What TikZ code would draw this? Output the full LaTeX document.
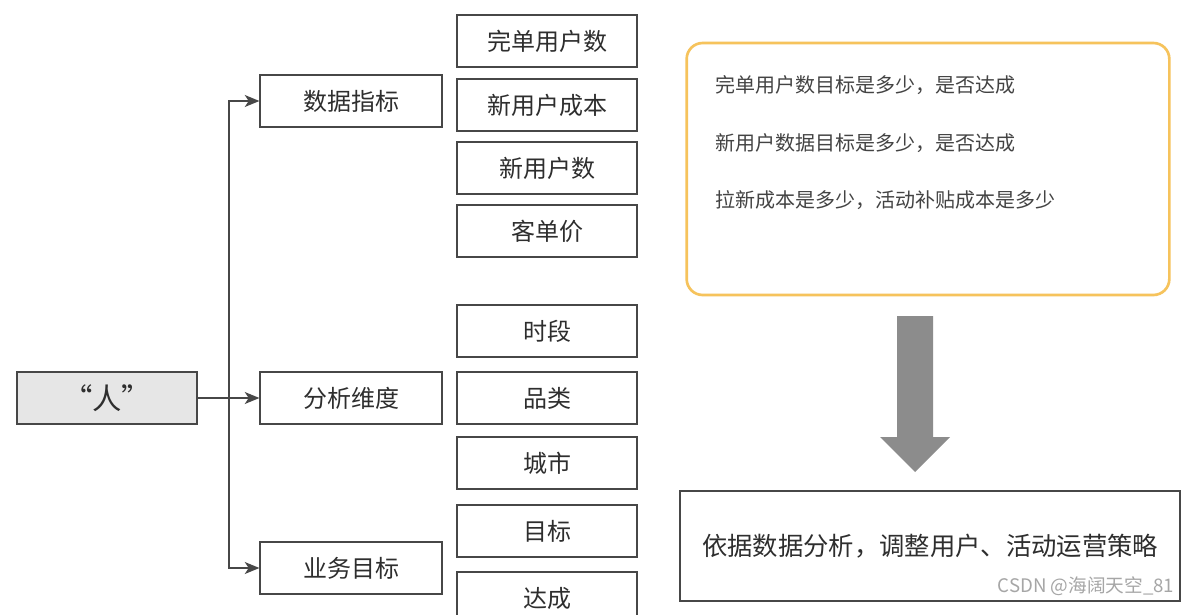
\documentclass[tikz,border=0pt]{standalone}
\usepackage{fontspec}
\setmainfont{Noto Sans CJK SC}
\usetikzlibrary{arrows.meta,shadows}
\definecolor{txtgray}{HTML}{2E2E2E}
\definecolor{linegray}{HTML}{474747}
\definecolor{rengray}{HTML}{E6E6E6}
\definecolor{goalyellow}{HTML}{F6C35C}
\definecolor{bigarrow}{HTML}{8C8C8C}

\begin{document}
\begin{tikzpicture}[
  x=0.75pt,
  y=-0.75pt,
  every node/.style={text=txtgray, align=center},
  box/.style={
    draw=linegray,
    line width=1.4pt,
    fill=white,
    minimum width=136pt,
    minimum height=39pt,
    inner sep=0pt,
    font=\fontsize{18}{20}\selectfont,
    drop shadow={opacity=0.25, shadow xshift=0.8pt, shadow yshift=-0.8pt}
  },
  item/.style={box, minimum width=135pt},
  note/.style={anchor=west, font=\fontsize{15}{17}\selectfont, text=txtgray!90},
  arrow/.style={-{Stealth[length=11pt,width=9pt,inset=3pt]}, line width=1.1pt, draw=linegray}
]
\useasboundingbox (0,0) rectangle (1194,614);
\clip (0,0) rectangle (1194,614);
\fill[white] (0,0) rectangle (1194,614);

% left part
\node[box, fill=rengray, minimum width=135pt, font=\fontsize{22}{24}\selectfont] (ren) at (107,398) {“人”};
\node[box] (zhibiao) at (351,101) {数据指标};
\node[box] (weidu) at (351,398) {分析维度};
\node[box] (mubiao) at (351,568) {业务目标};
\coordinate (split) at (229,398);

\draw[arrow] (ren) -- (weidu);
\draw[arrow] (split) |- (zhibiao);
\draw[arrow] (split) |- (mubiao);

% detail column
\node[item] (wandan) at (547,41) {完单用户数};
\node[item] (xincost) at (547,105) {新用户成本};
\node[item] (xinnum) at (547,168) {新用户数};
\node[item] (kedan) at (547,231) {客单价};
\node[item] (shiduan) at (547,331) {时段};
\node[item] (pinlei) at (547,398) {品类};
\node[item] (chengshi) at (547,463) {城市};
\node[item] (mubiaoitem) at (547,531) {目标};
\node[item] (dacheng) at (547,598) {达成};

% questions and result
\node[draw=goalyellow, line width=2pt, rounded corners=12pt, minimum width=362pt, minimum height=189pt] (goals) at (928,169) {};
\node[note] (q1) at (711,85) {完单用户数目标是多少，是否达成};
\node[note] (q2) at (711,143) {新用户数据目标是多少，是否达成};
\node[note] (q3) at (711,200) {拉新成本是多少，活动补贴成本是多少};

\fill[bigarrow] (897,316) -- (933,316) -- (933,437) -- (950,437) -- (915,472) -- (880,437) -- (897,437) -- cycle;

\node[box, minimum width=375pt, minimum height=82pt, font=\fontsize{19}{21}\selectfont] (celue) at (930,546) {依据数据分析，调整用户、活动运营策略};

\node[anchor=east, font=\fontsize{14}{16}\selectfont, text=gray!70] (mark) at (1179,586) {CSDN @海阔天空\_81};

\end{tikzpicture}
\end{document}
